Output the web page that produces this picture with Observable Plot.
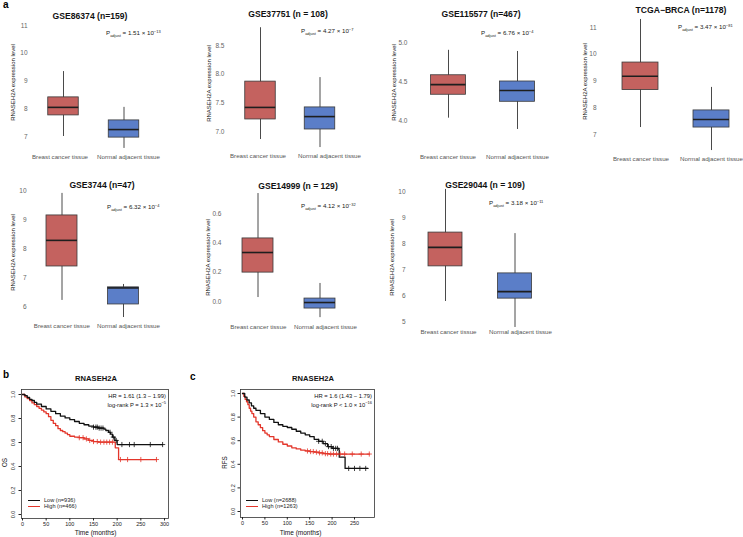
<!DOCTYPE html>
<html><head><meta charset="utf-8">
<script src="https://cdn.jsdelivr.net/npm/d3@7"></script>
<script src="https://cdn.jsdelivr.net/npm/@observablehq/plot@0.6"></script>
<style>
body{margin:0;background:#fff;}
#fig{position:relative;width:743px;height:537px;overflow:hidden;background:#fff;font-family:"Liberation Sans",Arial,sans-serif;}
.abs{position:absolute;white-space:nowrap;line-height:1;}
.title{font-weight:bold;font-size:8.6px;color:#111;transform:translate(-50%,-50%);}
.pval{font-size:6.2px;color:#222;transform:translateY(-50%);}
.pval sub{font-size:4px;vertical-align:-2px;}
.pval sup,.hr sup{font-size:4px;vertical-align:2.5px;}
.letter{font-weight:bold;font-size:10px;color:#000;}
.hr{font-size:5.8px;color:#111;transform:translateX(-100%);}
.leg{font-size:5.6px;color:#222;display:flex;align-items:center;}
.leg i{display:inline-block;width:12px;height:0;border-top:1px solid;margin-right:4px;}
</style>
</head><body>
<div id="fig"></div>
<script>
// ---------- DATA ----------
const groups = ["Breast cancer tissue", "Normal adjacent tissue"];
const datasetTitles = ["GSE86374 (n=159)", "GSE37751 (n = 108)", "GSE115577 (n=467)", "TCGA\u2212BRCA (n=1178)",
                       "GSE3744 (n=47)", "GSE14999 (n = 129)", "GSE29044 (n = 109)"];
const pMantissa = ["1.51", "4.27", "6.76", "3.47", "6.32", "4.12", "3.18"];
const pExponent = ["\u221213", "\u22127", "\u22124", "\u221281", "\u22124", "\u221232", "\u221211"];
const yTicks = [[7,8,9,10,11],[7,7.5,8,8.5],[4,4.5,5],[7,8,9,10,11],[6,7,8,9,10],[0,0.2,0.4,0.6],[5,6,7,8,9,10]];
const yTickDecimals = [0,1,1,0,0,1,0];
// per panel: [cancer, normal]
const whiskerLow  = [[7.00,6.57],[6.86,6.72],[4.03,3.885],[7.26,6.40],[6.21,5.62],[0.027,-0.11],[5.77,4.77]];
const q1          = [[7.76,6.96],[7.21,7.035],[4.33,4.24],[8.66,7.26],[7.38,6.07],[0.197,-0.048],[7.12,5.88]];
const medians     = [[8.05,7.25],[7.42,7.26],[4.46,4.385],[9.18,7.56],[8.28,6.64],[0.334,-0.007],[7.85,6.15]];
const q3          = [[8.41,7.58],[7.87,7.42],[4.58,4.50],[9.69,7.90],[9.14,6.66],[0.43,0.02],[8.42,6.85]];
const whiskerHigh = [[9.34,8.05],[8.81,7.94],[4.90,4.885],[11.3,8.76],[9.9,6.76],[0.736,0.123],[10.08,8.38]];

// Kaplan-Meier (time in months, survival probability)
const osLow  = [[0,1],[5,0.99],[10,0.975],[15,0.96],[20,0.95],[25,0.935],[30,0.92],[40,0.9],[50,0.88],[60,0.86],[70,0.84],[80,0.82],[90,0.805],[100,0.79],[110,0.775],[120,0.76],[130,0.748],[140,0.737],[150,0.728],[160,0.72],[172,0.712],[176,0.70],[182,0.685],[186,0.67],[190,0.645],[195,0.617],[200,0.583],[296,0.583]];
const osHigh = [[0,1],[5,0.98],[10,0.965],[15,0.95],[20,0.93],[25,0.915],[30,0.9],[35,0.885],[40,0.87],[45,0.855],[50,0.84],[55,0.815],[60,0.785],[65,0.76],[70,0.74],[75,0.715],[80,0.70],[85,0.69],[90,0.678],[95,0.665],[100,0.652],[110,0.645],[120,0.64],[130,0.63],[140,0.617],[150,0.608],[160,0.603],[195,0.603],[196,0.556],[203,0.458],[283,0.458]];
const osLowCensor  = [150,155,158,162,166,170,185,192,198,210,226,236,270,296];
const osHighCensor = [120,128,135,142,150,158,165,172,178,184,190,207,222,250,283];
const rfsLow  = [[0,1],[5,0.97],[10,0.945],[15,0.92],[20,0.895],[25,0.875],[30,0.857],[40,0.83],[50,0.80],[60,0.78],[70,0.755],[80,0.735],[90,0.722],[100,0.712],[110,0.697],[120,0.68],[130,0.665],[140,0.65],[150,0.635],[160,0.612],[170,0.595],[180,0.575],[190,0.55],[200,0.535],[215,0.523],[216,0.46],[229,0.365],[280,0.365]];
const rfsHigh = [[0,1],[3,0.975],[6,0.95],[9,0.93],[12,0.905],[15,0.875],[18,0.85],[21,0.83],[25,0.80],[30,0.76],[35,0.735],[40,0.71],[45,0.685],[50,0.665],[55,0.65],[60,0.635],[70,0.61],[80,0.59],[90,0.57],[100,0.555],[110,0.54],[120,0.53],[130,0.52],[140,0.513],[150,0.508],[160,0.503],[170,0.497],[180,0.49],[193,0.487],[283,0.487]];
const rfsLowCensor  = [170,178,185,192,198,203,208,212,237,250,262,275];
const rfsHighCensor = [145,152,158,165,172,178,185,190,197,203,210,218,228,245,265,283];
const osTicksX = [0,50,100,150,200,250,300];
const rfsTicksX = [0,50,100,150,200,250];
const survTicks = [0,0.2,0.4,0.6,0.8,1.0];

// ---------- LAYOUT / STYLE ----------
const FONT = "'Liberation Sans', Arial, sans-serif";
const RED = "#c4625f", BLUE = "#5b7ec8";
const boxLayout = [
 {left:0,   top:18,  width:185, tick0:136, tick1:25,  axisRight:27,  ylabX:13,  ylabY:82,  centers:[63,123.5],   boxW:30.5, xlabY:157, labelX:[59.5,128],   titleX:90,  titleY:16,  pX:106, pY:34},
 {left:185, top:18,  width:190, tick0:131, tick1:45,  axisRight:224, ylabX:209, ylabY:83,  centers:[260,319.5],  boxW:30.5, xlabY:156, labelX:[257.5,329],  titleX:288, titleY:14,  pX:301, pY:32},
 {left:375, top:18,  width:185, tick0:120, tick1:42,  axisRight:407, ylabX:394, ylabY:82,  centers:[448,517],    boxW:35,   xlabY:157, labelX:[447.5,517],  titleX:481, titleY:14,  pX:481, pY:34},
 {left:560, top:18,  width:183, tick0:134, tick1:27,  axisRight:596, ylabX:585, ylabY:81,  centers:[640,711],    boxW:36,   xlabY:159, labelX:[640.5,711],  titleX:681, titleY:10,  pX:678, pY:28},
 {left:0,   top:188, width:185, tick0:306, tick1:190, axisRight:26,  ylabX:13,  ylabY:252, centers:[61.5,123],   boxW:31,   xlabY:326, labelX:[61.3,128],   titleX:102, titleY:185, pX:107, pY:208},
 {left:185, top:188, width:185, tick0:301, tick1:213, axisRight:221, ylabX:208, ylabY:257, centers:[257.5,319.5],boxW:31,   xlabY:327, labelX:[257.8,325],  titleX:298, titleY:186, pX:301, pY:207},
 {left:370, top:188, width:190, tick0:321, tick1:191, axisRight:405, ylabX:392, ylabY:257, centers:[445,514.5],  boxW:34,   xlabY:332, labelX:[448,520],    titleX:485, titleY:185, pX:489, pY:204},
];

const fig = document.getElementById("fig");
function addDiv(cls, html, x, y) {
  const d = document.createElement("div");
  d.className = "abs " + cls; d.innerHTML = html;
  d.style.left = x + "px"; d.style.top = y + "px";
  fig.appendChild(d); return d;
}
function place(svg, left, top) {
  svg.style.position = "absolute"; svg.style.left = left + "px"; svg.style.top = top + "px";
  svg.style.overflow = "visible"; svg.style.background = "transparent"; svg.style.maxWidth = "none";
  fig.appendChild(svg);
}

// ---------- BOX PANELS ----------
boxLayout.forEach((L, i) => {
  const stats = groups.map((g, j) => ({group: g, lo: whiskerLow[i][j], q1: q1[i][j], med: medians[i][j], q3: q3[i][j], hi: whiskerHigh[i][j]}));
  const s = L.centers[1] - L.centers[0];
  const p = 1 - L.boxW / s;
  const a = L.centers[0] - p * s - L.boxW / 2 - L.left;
  const b = a + (2 + p) * s;
  const marginLeft = L.axisRight - L.left + 3;
  const height = L.xlabY + 8 - L.top;
  const ticks = yTicks[i];
  const fmt = d3.format("." + yTickDecimals[i] + "f");
  const svg = Plot.plot({
    width: L.width, height,
    marginLeft, marginRight: 0, marginTop: 0, marginBottom: 0,
    style: {fontFamily: FONT},
    x: {type: "band", domain: groups, range: [a, b], padding: p, round: false, axis: null},
    y: {domain: [ticks[0], ticks[ticks.length - 1]], range: [L.tick0 - L.top, L.tick1 - L.top], axis: null},
    marks: [
      Plot.ruleX(stats, {x: "group", y1: "lo", y2: "hi", stroke: "#4a4a4a", strokeWidth: 1}),
      Plot.barY(stats, {x: "group", y1: "q1", y2: "q3", fill: (d, k) => k === 0 ? RED : BLUE, stroke: "#3a3a3a", strokeWidth: 0.8}),
      Plot.tickY(stats, {x: "group", y: "med", stroke: "#1e1e1e", strokeWidth: 1.6}),
      Plot.axisY({ticks, tickFormat: fmt, tickSize: 0, tickPadding: 3, color: "#666", fontSize: 6.5, label: null}),
      ...groups.map((g, j) => Plot.text([g], {frameAnchor: "top-left", dx: L.labelX[j] - L.left - marginLeft, dy: L.xlabY - L.top,
        textAnchor: "middle", lineAnchor: "middle", fontSize: 6.2, fill: "#555", text: d => d})),
      Plot.text(["RNASEH2A expression level"], {frameAnchor: "top-left", dx: L.ylabX - L.left - marginLeft, dy: L.ylabY - L.top,
        rotate: -90, textAnchor: "middle", lineAnchor: "middle", fontSize: 6, fill: "#111", text: d => d})
    ]
  });
  place(svg, L.left, L.top);
  addDiv("title", datasetTitles[i], L.titleX, L.titleY);
  addDiv("pval", `P<sub>adjust</sub> = ${pMantissa[i]} \u00d7 10<sup>${pExponent[i]}</sup>`, L.pX, L.pY);
});

// ---------- KM PANELS ----------
function stepAt(curve, t) {
  let v = curve[0][1];
  for (const [tt, s] of curve) { if (tt <= t) v = s; else break; }
  return v;
}
function kmPanel(cfg) {
  const lowData = cfg.low.map(([t, s]) => ({t, s}));
  const highData = cfg.high.map(([t, s]) => ({t, s}));
  const cens = [
    ...cfg.lowC.map(t => ({t, s: stepAt(cfg.low, t), g: "Low"})),
    ...cfg.highC.map(t => ({t, s: stepAt(cfg.high, t), g: "High"}))
  ];
  const color = g => g === "Low" ? "#111" : "#e3362b";
  const svg = Plot.plot({
    width: cfg.W, height: cfg.H,
    marginLeft: cfg.fL - cfg.L, marginRight: cfg.L + cfg.W - cfg.fR,
    marginTop: cfg.fT - cfg.T, marginBottom: cfg.T + cfg.H - cfg.fB,
    style: {fontFamily: FONT},
    x: {domain: [0, cfg.xTicks[cfg.xTicks.length - 1]], range: [cfg.x0 - cfg.L, cfg.x1 - cfg.L], axis: null},
    y: {domain: [0, 1], range: [cfg.y0 - cfg.T, cfg.y1 - cfg.T], axis: null},
    marks: [
      Plot.frame({stroke: "#333", strokeWidth: 0.8}),
      Plot.line(highData, {x: "t", y: "s", curve: "step-after", stroke: color("High"), strokeWidth: 1.3}),
      Plot.line(lowData, {x: "t", y: "s", curve: "step-after", stroke: color("Low"), strokeWidth: 1.3}),
      Plot.dot(cens, {x: "t", y: "s", symbol: "plus", r: 1.8, stroke: d => color(d.g), strokeWidth: 0.8}),
      Plot.axisX({ticks: cfg.xTicks, tickSize: 2.5, tickPadding: 0.8, color: "#222", fontSize: 5.5, label: null}),
      Plot.axisY({ticks: survTicks, tickSize: 2.5, tickFormat: () => "", color: "#222", label: null}),
      Plot.text(survTicks, {y: d => d, frameAnchor: "left", dx: -(cfg.fL - cfg.ylabTickX), rotate: -90, textAnchor: "middle", lineAnchor: "middle",
        fontSize: 5.5, fill: "#222", text: d => d3.format(".1f")(d)}),
      Plot.text([cfg.ylab], {frameAnchor: "top-left", dx: cfg.ylabX - cfg.fL, dy: cfg.ylabY - cfg.fT, rotate: -90, textAnchor: "middle", lineAnchor: "middle",
        fontSize: 6.3, fill: "#111", text: d => d}),
      Plot.text(["Time (months)"], {frameAnchor: "top-left", dx: cfg.xlabX - cfg.fL, dy: 532 - cfg.fT, textAnchor: "middle", lineAnchor: "middle",
        fontSize: 6.5, fill: "#111", text: d => d})
    ]
  });
  place(svg, cfg.L, cfg.T);
}
kmPanel({L: 0, T: 370, W: 180, H: 167, fL: 21, fR: 168, fT: 389, fB: 518, x0: 22, x1: 164, y0: 514, y1: 394,
  xTicks: osTicksX, low: osLow, high: osHigh, lowC: osLowCensor, highC: osHighCensor,
  ylab: "OS", ylabX: 4, ylabY: 462, ylabTickX: 13, xlabX: 95});
kmPanel({L: 185, T: 370, W: 195, H: 167, fL: 240, fR: 374, fT: 389, fB: 517, x0: 242, x1: 354, y0: 511, y1: 393,
  xTicks: rfsTicksX, low: rfsLow, high: rfsHigh, lowC: rfsLowCensor, highC: rfsHighCensor,
  ylab: "RFS", ylabX: 224, ylabY: 462, ylabTickX: 233, xlabX: 300});

// KM titles, stats, legends
addDiv("title", "RNASEH2A", 96, 379).style.fontSize = "7.6px";
addDiv("title", "RNASEH2A", 313, 379).style.fontSize = "7.6px";
addDiv("hr", "HR = 1.61 (1.3 \u2212 1.99)", 166, 394);
addDiv("hr", "log-rank P = 1.3 \u00d7 10<sup>\u22125</sup>", 166, 401);
addDiv("hr", "HR = 1.6 (1.43 \u2212 1.79)", 372, 394);
addDiv("hr", "log-rank P &lt; 1.0 \u00d7 10<sup>\u221216</sup>", 372, 401);
addDiv("leg", '<i style="border-color:#111"></i>Low (n=936)', 28, 498);
addDiv("leg", '<i style="border-color:#e3362b"></i>High (n=466)', 28, 504);
addDiv("leg", '<i style="border-color:#111"></i>Low (n=2688)', 246, 498);
addDiv("leg", '<i style="border-color:#e3362b"></i>High (n=1263)', 246, 504);

// panel letters
addDiv("letter", "a", 3, 0);
addDiv("letter", "b", 3, 370);
addDiv("letter", "c", 190, 372);
</script>
</body></html>
